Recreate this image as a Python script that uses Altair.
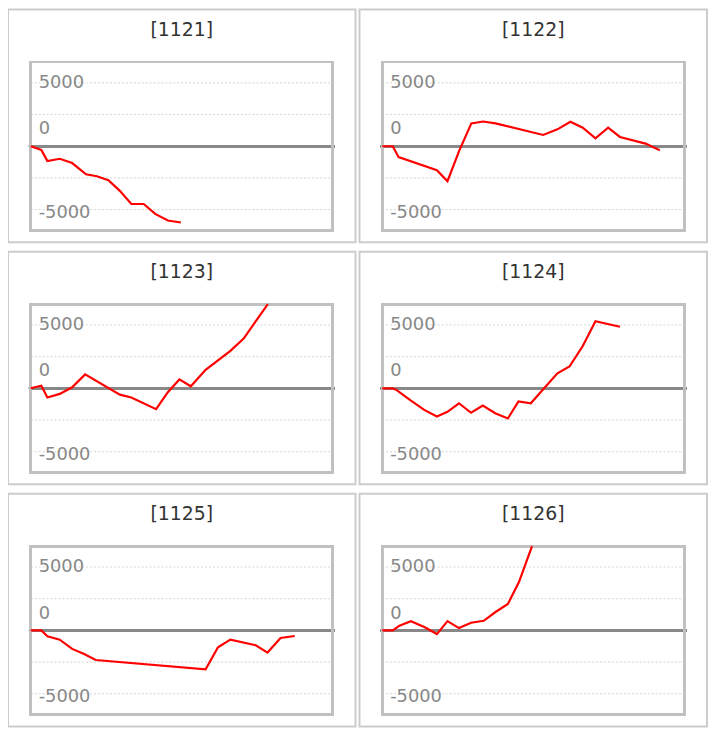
import altair as alt
import pandas as pd

# ---- data ----
titles = ["[1121]", "[1122]", "[1123]", "[1124]", "[1125]", "[1126]"]

x_1121 = [0, 3.5, 5.5, 9.6, 13.7, 18.3, 21.9, 25.7, 29.5, 33.3, 37.4, 41.2, 45.4, 49.7]
y_1121 = [0, -290, -1170, -990, -1330, -2210, -2370, -2680, -3520, -4560, -4560, -5340, -5860, -6020]

x_1122 = [0, 3.5, 5.4, 18.1, 21.6, 25.5, 29.5, 33.4, 37.5, 53.3, 58.0, 62.3, 66.4, 70.6, 74.8, 78.7, 87.2, 91.9]
y_1122 = [0, 0, -860, -1900, -2760, -350, 1800, 1950, 1800, 890, 1330, 1930, 1460, 630, 1460, 730, 210, -310]

x_1123 = [0, 3.5, 5.5, 9.6, 13.7, 18.0, 29.5, 33.3, 41.5, 45.4, 49.2, 53.0, 57.9, 66.1, 70.5, 74.3, 78.5]
y_1123 = [0, 210, -730, -440, 80, 1100, -500, -730, -1650, -310, 700, 160, 1460, 2950, 3920, 5220, 6640]

x_1124 = [0, 3.5, 4.9, 9.5, 13.9, 18.1, 21.6, 25.4, 29.4, 33.3, 37.4, 41.6, 45.1, 49.2, 53.6, 58.0, 62.0, 66.4, 70.6, 78.7]
y_1124 = [0, 0, -160, -970, -1700, -2220, -1850, -1180, -1930, -1360, -1960, -2380, -1040, -1180, 0, 1180, 1720, 3340, 5300, 4860]

x_1125 = [0, 3.5, 5.5, 9.6, 13.7, 17.5, 21.5, 57.9, 62.0, 66.1, 74.5, 78.4, 82.7, 87.4]
y_1125 = [0, 0, -470, -730, -1460, -1850, -2340, -3070, -1330, -730, -1170, -1750, -600, -440]

x_1126 = [0, 3.5, 5.7, 9.5, 13.9, 18.1, 21.6, 25.4, 29.4, 33.6, 37.4, 41.6, 45.3, 49.6]
y_1126 = [0, 0, 370, 730, 260, -290, 730, 180, 600, 760, 1430, 2080, 3830, 6640]

series_x = [x_1121, x_1122, x_1123, x_1124, x_1125, x_1126]
series_y = [y_1121, y_1122, y_1123, y_1124, y_1125, y_1126]

grid_values = [-5000, -2500, 2500, 5000]
tick_values = [5000, 0, -5000]
tick_labels = ["5000", "0", "-5000"]

# ---- layout / style ----
W, H = 351, 235
XMIN, XMAX = 0, 100
YMIN, YMAX = -6640, 6640
xs = alt.Scale(domain=[XMIN, XMAX], range=[23, 328], nice=False, zero=False)
ys = alt.Scale(domain=[YMIN, YMAX], range=[223, 53], nice=False, zero=False)
FONT = "DejaVu Sans"
label_dy = {"5000": 0, "0": -17, "-5000": 3}


def panel(i):
    line_df = pd.DataFrame({"x": series_x[i], "y": series_y[i]})
    grid_df = pd.DataFrame({"g": grid_values})
    title_df = pd.DataFrame({"t": [titles[i]]})

    box = alt.Chart(line_df).mark_rect(
        fill=None, stroke="#c0c0c0", strokeWidth=2
    ).encode(
        x=alt.X(datum=XMIN, scale=xs, axis=None),
        x2=alt.X2(datum=XMAX),
        y=alt.Y(datum=YMIN, scale=ys, axis=None),
        y2=alt.Y2(datum=YMAX),
    )

    grid = alt.Chart(grid_df).mark_rule(
        color="#d4d4d4", strokeWidth=1, strokeDash=[2, 2]
    ).encode(
        y=alt.Y("g:Q", scale=ys, axis=None),
        x=alt.X(datum=XMIN, scale=xs, axis=None),
        x2=alt.X2(datum=XMAX),
    )

    zero = alt.Chart(line_df).mark_rule(color="#888888", strokeWidth=2).encode(
        y=alt.Y(datum=0, scale=ys, axis=None),
        x=alt.X(datum=-0.6, scale=xs, axis=None),
        x2=alt.X2(datum=100.7),
    )

    labels = []
    for v, t in zip(tick_values, tick_labels):
        ldf = pd.DataFrame({"v": [v], "t": [t]})
        labels.append(
            alt.Chart(ldf).mark_text(
                align="left", baseline="middle", dx=8, dy=label_dy[t],
                font=FONT, fontSize=18, color="#888888",
            ).encode(
                x=alt.X(datum=XMIN, scale=xs, axis=None),
                y=alt.Y("v:Q", scale=ys, axis=None),
                text="t:N",
            )
        )

    title = alt.Chart(title_df).mark_text(
        align="center", baseline="alphabetic",
        font=FONT, fontSize=19, color="#333333",
    ).encode(
        x=alt.value(W / 2),
        y=alt.value(27),
        text="t:N",
    )

    line = alt.Chart(line_df).mark_line(color="#ff0000", strokeWidth=2.2).encode(
        x=alt.X("x:Q", scale=xs, axis=None),
        y=alt.Y("y:Q", scale=ys, axis=None),
    )

    return alt.layer(grid, zero, box, *labels, title, line).properties(
        width=W,
        height=H,
    )


rows = [alt.hconcat(panel(2 * r), panel(2 * r + 1), spacing=2) for r in range(3)]
chart = alt.vconcat(*rows, spacing=7.5).properties(
    padding={"left": -1, "top": -3, "right": 0, "bottom": 0},
    background="white",
).configure_view(stroke="#cccccc", strokeWidth=2)

chart.save("out.html", embed_options={"renderer": "svg", "actions": False})
